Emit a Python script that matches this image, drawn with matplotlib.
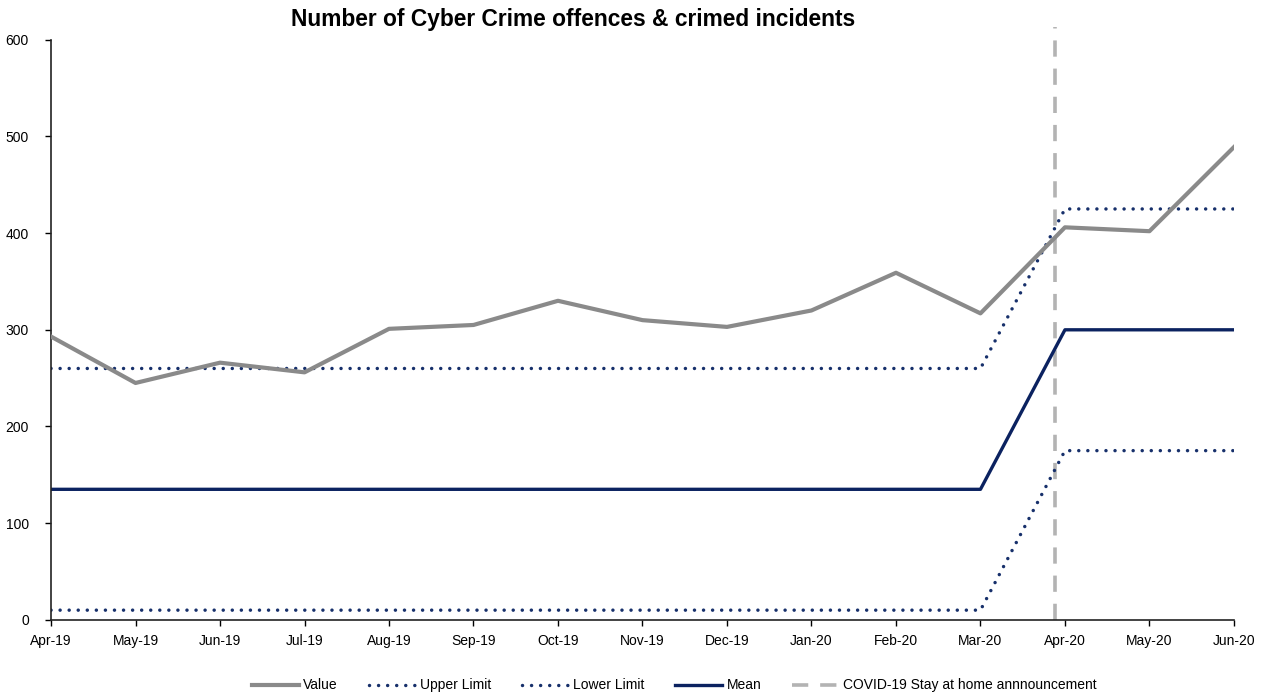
import matplotlib
matplotlib.use("Agg")
import matplotlib.pyplot as plt
import numpy as np

# data
months = ["Apr-19", "May-19", "Jun-19", "Jul-19", "Aug-19", "Sep-19", "Oct-19", "Nov-19",
          "Dec-19", "Jan-20", "Feb-20", "Mar-20", "Apr-20", "May-20", "Jun-20"]
value = [293, 245, 266, 256, 301, 305, 330, 310, 303, 320, 359, 317, 406, 402, 489]
upper_limit = [260] * 12 + [425] * 3
lower_limit = [10] * 12 + [175] * 3
mean = [135] * 12 + [300] * 3
covid_pos = 11.88  # position of stay-at-home announcement (between Mar-20 and Apr-20)

plt.rcParams['font.family'] = ['Liberation Sans', 'DejaVu Sans']

fig = plt.figure(figsize=(12.63, 6.98), dpi=100)
ax = fig.add_axes([0.0404, 0.112, 0.9366, 0.831])

x = np.arange(len(months))
navy = '#17306b'
dark_navy = '#0b2260'

ax.plot(x, value, color='#8a8a8a', lw=3.0, label='Value', zorder=3)
ax.plot(x, upper_limit, color=navy, lw=2.5, linestyle=(0, (0.01, 2.6)),
        dash_capstyle='round', label='Upper Limit', zorder=2)
ax.plot(x, lower_limit, color=navy, lw=2.5, linestyle=(0, (0.01, 2.6)),
        dash_capstyle='round', label='Lower Limit', zorder=2)
ax.plot(x, mean, color=dark_navy, lw=2.4, label='Mean', zorder=2)
ax.axvline(covid_pos, ymin=0, ymax=1.022, color='#b3b3b3', lw=2.6,
           linestyle=(0, (4.5, 3.3)), clip_on=False,
           label='COVID-19 Stay at home annnouncement', zorder=1)

ax.set_xlim(0, len(months) - 1)
ax.set_ylim(0, 600)
ax.set_xticks(x)
ax.set_xticklabels(months)
ax.set_yticks(range(0, 601, 100))
ax.tick_params(axis='both', direction='out', length=4, width=1, labelsize=10, pad=6)
ax.tick_params(axis='y', pad=12)

for side in ['top', 'right']:
    ax.spines[side].set_visible(False)
for side in ['left', 'bottom']:
    ax.spines[side].set_color('#222222')
    ax.spines[side].set_linewidth(1.2)

fig.text(0.454, 0.972, 'Number of Cyber Crime offences & crimed incidents',
         ha='center', va='center', fontsize=16.4, fontweight='bold')

ax.legend(loc='lower center', bbox_to_anchor=(0.534, -0.01), bbox_transform=fig.transFigure,
          ncol=5, frameon=False, fontsize=10, handlelength=3.4, columnspacing=2.2,
          handletextpad=0.3)

fig.savefig('out.png', dpi=100)
